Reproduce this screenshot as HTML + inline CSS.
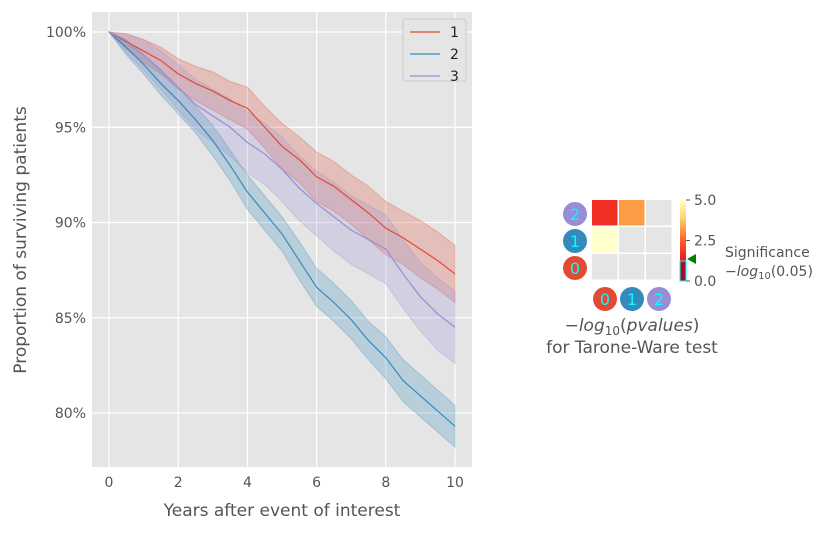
<!DOCTYPE html>
<html><head><meta charset="utf-8"><style>
body{margin:0;background:#fff;font-family:"Liberation Sans","DejaVu Sans",sans-serif}
svg text{font-family:"DejaVu Sans","Liberation Sans",sans-serif}
</style></head><body>
<svg id="c" width="831" height="531" xmlns="http://www.w3.org/2000/svg">
<rect x="92" y="12" width="380" height="455" fill="#e5e5e5"/>
<g id="grid"></g><g id="bands"></g><g id="lines"></g><g id="axes"></g>
<g>
<rect x="403" y="19" width="63" height="62" rx="3" fill="#e5e5e5" stroke="#ccc"/>
<g><line x1="410" y1="32" x2="440" y2="32" stroke="#e24a33" stroke-width="1.2"/><text x="450" y="37" font-size="14" fill="#222">1</text></g>
<g><line x1="410" y1="54" x2="440" y2="54" stroke="#348abd" stroke-width="1.2"/><text x="450" y="59" font-size="14" fill="#222">2</text></g>
<g><line x1="410" y1="76" x2="440" y2="76" stroke="#988ed5" stroke-width="1.2"/><text x="450" y="81" font-size="14" fill="#222">3</text></g>
</g>
<text x="282" y="516" text-anchor="middle" font-size="17" fill="#555">Years after event of interest</text>
<text transform="translate(26,240) rotate(-90)" text-anchor="middle" font-size="17" fill="#555">Proportion of surviving patients</text>
<g id="heat"></g>
<text x="632" y="331" text-anchor="middle" font-size="17" fill="#555">−<tspan font-style="italic">log</tspan><tspan font-size="12" dy="4">10</tspan><tspan dy="-4">(</tspan><tspan font-style="italic">pvalues</tspan>)</text>
<text x="632" y="353" text-anchor="middle" font-size="17" fill="#555">for Tarone-Ware test</text>
<text x="725" y="257" font-size="14" fill="#555">Significance</text>
<text x="725" y="276" font-size="14" fill="#555">−<tspan font-style="italic">log</tspan><tspan font-size="10" dy="3">10</tspan><tspan dy="-3">(0.05)</tspan></text>
</svg>
<script>
const times=[0,0.5,1,1.5,2,2.5,3,3.5,4,4.5,5,5.5,6,6.5,7,7.5,8,8.5,9,9.5,10];
const s1=[100,99.5,99.0,98.5,97.8,97.3,96.9,96.4,96.0,95.0,94.0,93.3,92.4,91.9,91.2,90.5,89.7,89.2,88.6,88.0,87.3];
const s2=[100,99.2,98.3,97.3,96.4,95.4,94.3,93.0,91.6,90.5,89.4,88.0,86.6,85.8,84.9,83.8,82.9,81.7,80.9,80.1,79.3];
const s3=[100,99.4,98.8,98.0,97.1,96.2,95.6,95.0,94.2,93.6,92.8,91.8,91.0,90.3,89.6,89.1,88.6,87.3,86.1,85.2,84.5];
const ci1=[0,0.4,0.6,0.7,0.8,0.9,1.0,1.0,1.1,1.1,1.2,1.2,1.3,1.3,1.3,1.4,1.4,1.4,1.5,1.5,1.5];
const ci2=[0,0.4,0.5,0.6,0.7,0.7,0.8,0.8,0.9,0.9,0.9,1.0,1.0,1.0,1.0,1.0,1.1,1.1,1.1,1.1,1.1];
const ci3=[0,0.5,0.8,1.0,1.2,1.3,1.4,1.5,1.6,1.6,1.7,1.7,1.7,1.8,1.8,1.8,1.8,1.8,1.8,1.9,1.9];
const xTicks=[0,2,4,6,8,10];
const yTicks=[80,85,90,95,100];
const pvals=[[0,0,0],[5.0,0,0],[3.9,3.0,0]];
const NS='http://www.w3.org/2000/svg';
const X=t=>109+t*34.6, Y=v=>32+(100-v)*19.05;
function mk(tag,at,parent){const e=document.createElementNS(NS,tag);for(const k in at)e.setAttribute(k,at[k]);parent.appendChild(e);return e;}
const g=document.getElementById('grid'),ax=document.getElementById('axes');
xTicks.forEach(t=>{const l=mk('line',{x1:X(t),x2:X(t),y1:12,y2:467,stroke:'#fff','stroke-width':1.2},g);

const tx=mk('text',{x:X(t),y:487,'text-anchor':'middle','font-size':14,fill:'#555'},ax);tx.textContent=t;
});
yTicks.forEach(v=>{const l=mk('line',{x1:92,x2:472,y1:Y(v),y2:Y(v),stroke:'#fff','stroke-width':1.2},g);

const tx=mk('text',{x:86,y:Y(v)+5,'text-anchor':'end','font-size':14,fill:'#555'},ax);tx.textContent=v+'%';
});
function pts(vals){return times.map((t,i)=>[X(t),Y(vals[i])]);}
const series=[[s1,ci1,'#e24a33'],[s2,ci2,'#348abd'],[s3,ci3,'#988ed5']];
series.forEach(([s,ci,c],k)=>{
 const up=pts(s.map((v,i)=>Math.min(100,v+ci[i]))), lo=pts(s.map((v,i)=>v-ci[i]));
 const d='M'+up.map(p=>p.join(',')).join('L')+'L'+lo.reverse().map(p=>p.join(',')).join('L')+'Z';
 const b=mk('path',{d:d,fill:c,'fill-opacity':0.25,stroke:c,'stroke-opacity':0.3},document.getElementById('bands'));
 
 const l=mk('polyline',{points:pts(s).map(p=>p.join(',')).join(' '),fill:'none',stroke:c,'stroke-width':1.2},document.getElementById('lines'));
 
});
const h=document.getElementById('heat');
const cw=27;
for(let r=0;r<3;r++)for(let c=0;c<3;c++){const v=pvals[r][c];
 const fill=v<=0?'#e5e5e5':(v>=4.6?'#ffffcc':(v>=3.5?'#f03023':'#fd9c45'));
 const rc=mk('rect',{x:592+c*cw,y:200+(2-r)*cw,width:cw-1.5,height:cw-1.5,fill:fill},h);
 }
const cc=['#e24a33','#348abd','#988ed5'];
for(let i=0;i<3;i++){
 const a=mk('circle',{cx:575,cy:268-i*cw,r:12,fill:cc[i]},h);
 const t=mk('text',{x:575,y:274-i*cw,'text-anchor':'middle','font-size':16,fill:'#0ff'},h);t.textContent=i;
 const b=mk('circle',{cx:605+i*cw,cy:299,r:12,fill:cc[i]},h);
 const t2=mk('text',{x:605+i*cw,y:305,'text-anchor':'middle','font-size':16,fill:'#0ff'},h);t2.textContent=i;
}
const defs=mk('defs',{},h);const lg=mk('linearGradient',{id:'cb',x1:0,y1:1,x2:0,y2:0},defs);
[['0','#b10026'],['0.25','#e31a1c'],['0.45','#fc4e2a'],['0.6','#fd8d3c'],['0.8','#fed976'],['1','#ffffcc']].forEach(([o,c])=>mk('stop',{offset:o,'stop-color':c},lg));
const cb=mk('rect',{x:680,y:200,width:6,height:81,fill:'url(#cb)'},h);
const hat=mk('rect',{x:680,y:261,width:6,height:20,fill:'#a0102a',stroke:'#0ff','stroke-width':1},h);
[['5.0',200],['2.5',240.5],['0.0',281]].forEach(([t,y])=>{mk('line',{x1:686,x2:690,y1:y,y2:y,stroke:'#555'},h);
 const tx=mk('text',{x:694,y:y+5,'font-size':14,fill:'#555'},h);tx.textContent=t;});
const tri=mk('polygon',{points:'687,259 696,254 696,264',fill:'green'},h);
</script>
</body></html>
